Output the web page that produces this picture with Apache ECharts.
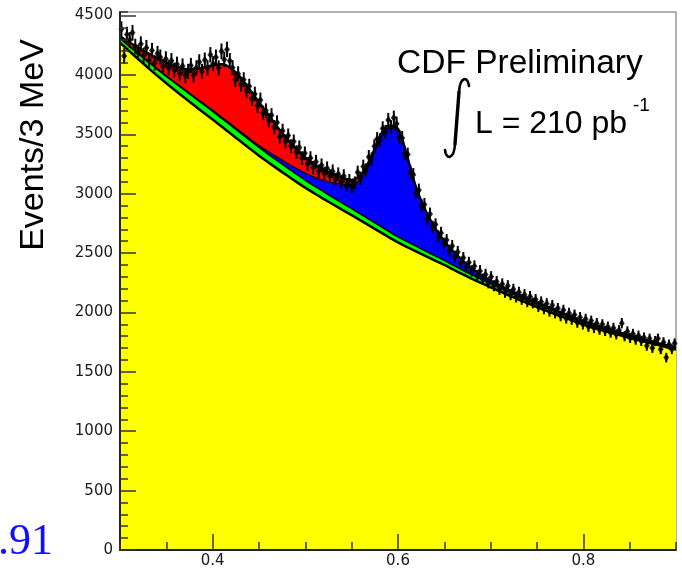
<!DOCTYPE html>
<html>
<head>
<meta charset="utf-8">
<script src="https://cdn.jsdelivr.net/npm/echarts@6/dist/echarts.min.js"></script>
<style>
html,body{margin:0;padding:0;background:#fff;}
#chart{width:682px;height:571px;}
</style>
</head>
<body>
<div id="chart"></div>
<script>
// ---- data ----
const binLow = 0.3;
const binWidth = 0.003;
const counts = [
4385,4160,4340,4295,4355,4240,4190,4260,4165,4230,
4120,4205,4100,4180,4150,4070,4135,4060,4120,4040,
4090,4010,4075,3995,4030,4080,4000,4060,4110,4030,
4125,4060,4170,4095,4150,4060,4200,4130,4215,4120,
4060,3960,4010,3920,3960,3870,3905,3800,3840,3740,
3790,3680,3700,3620,3660,3560,3600,3480,3530,3440,
3490,3400,3440,3350,3390,3300,3340,3250,3300,3220,
3270,3190,3240,3170,3215,3150,3190,3120,3165,3100,
3150,3070,3110,3060,3090,3180,3130,3230,3200,3310,
3290,3400,3460,3450,3550,3520,3620,3560,3640,3590,
3480,3470,3340,3330,3180,3160,3010,3030,2900,2910,
2790,2830,2720,2740,2640,2670,2580,2610,2520,2560,
2470,2510,2420,2460,2380,2420,2350,2390,2310,2350,
2280,2320,2250,2300,2225,2260,2195,2240,2170,2225,
2150,2195,2130,2170,2110,2150,2090,2135,2080,2110,
2050,2090,2030,2075,2010,2060,1995,2035,1970,2020,
1950,1995,1940,1980,1915,1960,1900,1945,1880,1930,
1870,1910,1855,1900,1845,1880,1830,1870,1815,1850,
1910,1800,1840,1785,1820,1770,1805,1760,1790,1720,
1780,1700,1760,1780,1690,1750,1620,1730,1690,1740
];
// fit components sampled every 0.01 from 0.30 to 0.90
const compStart = 0.30, compStep = 0.01;
const bgYellow = [
4272,4201,4131,4062,3995,3930,3867,3805,3744,3684,
3625,3563,3502,3441,3380,3320,3264,3209,3155,3102,
3050,3002,2955,2909,2864,2820,2773,2727,2681,2635,
2590,2551,2513,2475,2437,2400,2360,2320,2283,2247,
2212,2177,2142,2109,2077,2045,2015,1985,1956,1927,
1898,1874,1851,1829,1808,1787,1767,1747,1727,1707,1687
];
const compGreen = [
35,40,45,50,54,58,61,64,66,68,
69,70,70,70,70,69,68,67,66,64,
63,61,60,58,56,55,53,51,50,48,
46,45,43,41,40,38,36,35,33,32,
30,29,28,27,26,25,24,23,22,21,
20,19,18,17,16,15,14,13,12,11,10
];
const compBlue = [
4,4,5,5,6,6,7,8,8,9,
10,11,12,13,15,17,24,30,38,48,
60,75,95,125,160,200,300,482,714,870,
893,702,475,332,228,158,112,78,52,35,
25,21,18,16,14,12,11,10,9,8,
8,7,7,6,6,5,5,5,4,4,4
];
const compRed = [
14,30,47,66,87,111,137,173,230,301,
378,446,471,456,410,364,309,254,206,166,
132,107,90,73,55,40,34,30,30,22,
16,12,9,7,5,4,2,1,1,0,
0,0,0,0,0,0,0,0,0,0,
0,0,0,0,0,0,0,0,0,0,0
];
const xTickLabels = [0.4, 0.6, 0.8];
const yTickLabels = [0, 500, 1000, 1500, 2000, 2500, 3000, 3500, 4000, 4500];

// ---- build series data (stacked sums of the components) ----
const compX = bgYellow.map((_, i) => +(compStart + compStep * i).toFixed(2));
const topYellow = bgYellow.slice();
const topGreen = topYellow.map((v, i) => v + compGreen[i]);
const topBlue = topGreen.map((v, i) => v + compBlue[i]);
const topRed = topBlue.map((v, i) => v + compRed[i]);
const pair = arr => arr.map((v, i) => [compX[i], v]);
const points = counts.map((v, i) => [+(binLow + binWidth * (i + 0.5)).toFixed(4), v]);

const chart = echarts.init(document.getElementById('chart'), null, {renderer: 'canvas'});
const tickFont = {fontFamily: 'DejaVu Sans', fontSize: 15, color: '#1a1a1a'};
const areaSeries = (name, arr, fill, lw, z) => ({
  name, type: 'line', data: pair(arr), smooth: 0.35,
  symbol: 'none', areaStyle: {color: fill, opacity: 1, origin: 'start'},
  lineStyle: {color: '#000', width: lw}, silent: true, z: z
});
const ink = {stroke: '#000', lineWidth: 2.6, fill: null, lineCap: 'round'};

chart.setOption({
  animation: false,
  backgroundColor: '#fff',
  grid: {left: 120, right: 6, top: 12, bottom: 21, show: true, borderColor: '#666', borderWidth: 1, backgroundColor: '#fff'},
  xAxis: [
    {type: 'value', min: 0.3, max: 0.9, interval: 0.05, position: 'bottom',
     axisLine: {show: true, lineStyle: {color: '#222', width: 2}},
     axisTick: {show: true, inside: true, length: 8, lineStyle: {color: '#333', width: 1.5}},
     axisLabel: {show: false}, splitLine: {show: false}, z: 10},
    {type: 'value', min: 0.3, max: 0.9, position: 'bottom',
     axisLine: {show: false},
     axisTick: {show: true, inside: true, length: 16, customValues: xTickLabels, lineStyle: {color: '#333', width: 1.5}},
     axisLabel: Object.assign({show: true, margin: 4, customValues: xTickLabels, formatter: v => v.toFixed(1)}, tickFont),
     splitLine: {show: false}, z: 10}
  ],
  yAxis: [
    {type: 'value', min: 0, max: 4530, interval: 100, position: 'left',
     axisLine: {show: true, lineStyle: {color: '#222', width: 2}},
     axisTick: {show: true, inside: true, length: 8, lineStyle: {color: '#333', width: 1.5}},
     axisLabel: {show: false}, splitLine: {show: false}, z: 10},
    {type: 'value', min: 0, max: 4530, position: 'left',
     axisLine: {show: false},
     axisTick: {show: true, inside: true, length: 16, customValues: yTickLabels, lineStyle: {color: '#333', width: 1.5}},
     axisLabel: Object.assign({show: true, margin: 7, customValues: yTickLabels, formatter: v => String(v)}, tickFont),
     splitLine: {show: false}, z: 10}
  ],
  series: [
    areaSeries('red', topRed, '#ff0000', 2.5, 1),
    areaSeries('blue', topBlue, '#0000ff', 1.2, 2),
    areaSeries('green', topGreen, '#00ff00', 1.5, 3),
    areaSeries('background', topYellow, '#ffff00', 2.5, 4),
    {name: 'errors', type: 'custom', data: points, z: 5, silent: true, clip: true,
     renderItem: (params, api) => {
       const x = api.value(0), y = api.value(1), e = Math.sqrt(y);
       const t = api.coord([x, y + e]), b = api.coord([x, y - e]);
       const l = api.coord([x - binWidth / 2, y]), r = api.coord([x + binWidth / 2, y]);
       return {type: 'group', children: [
         {type: 'line', shape: {x1: t[0], y1: t[1], x2: b[0], y2: b[1]}, style: {stroke: '#000', lineWidth: 2}},
         {type: 'line', shape: {x1: l[0], y1: l[1], x2: r[0], y2: r[1]}, style: {stroke: '#000', lineWidth: 1.5}}
       ]};
     }},
    {name: 'data', type: 'scatter', data: points, symbol: 'diamond', symbolSize: [6, 8],
     itemStyle: {color: '#000'}, z: 6, silent: true, clip: true}
  ],
  graphic: [
    {type: 'text', x: 34, y: 145, rotation: Math.PI / 2, z: 20,
     style: {text: 'Events/3 MeV', font: '34px "Liberation Sans"', fill: '#000', align: 'center', verticalAlign: 'middle', textAlign: 'center', textVerticalAlign: 'middle'}},
    {type: 'text', x: 397, y: 64, z: 20,
     style: {text: 'CDF Preliminary', font: '33.5px "Liberation Sans"', fill: '#000', align: 'left', verticalAlign: 'middle', textAlign: 'left', textVerticalAlign: 'middle'}},
    {type: 'bezierCurve', z: 20,
     shape: {x1: 469, y1: 86, cpx1: 468, cpy1: 76, cpx2: 460, cpy2: 76, x2: 459, y2: 92}, style: ink},
    {type: 'line', z: 20,
     shape: {x1: 459, y1: 92, x2: 455, y2: 144}, style: Object.assign({}, ink, {lineWidth: 3.4})},
    {type: 'bezierCurve', z: 20,
     shape: {x1: 455, y1: 144, cpx1: 454, cpy1: 160, cpx2: 446, cpy2: 160, x2: 445, y2: 150}, style: ink},
    {type: 'text', x: 475, y: 124, z: 20,
     style: {text: 'L = 210 pb', font: '32px "Liberation Sans"', fill: '#000', align: 'left', verticalAlign: 'middle', textAlign: 'left', textVerticalAlign: 'middle'}},
    {type: 'text', x: 633, y: 106, z: 20,
     style: {text: '-1', font: '19px "Liberation Sans"', fill: '#000', align: 'left', verticalAlign: 'middle', textAlign: 'left', textVerticalAlign: 'middle'}},
    {type: 'text', x: 53, y: 542, z: 20,
     style: {text: '1.91', font: '44px "Liberation Serif"', fill: '#1010ff', align: 'right', verticalAlign: 'middle', textAlign: 'right', textVerticalAlign: 'middle'}}
  ]
});
</script>
</body>
</html>
